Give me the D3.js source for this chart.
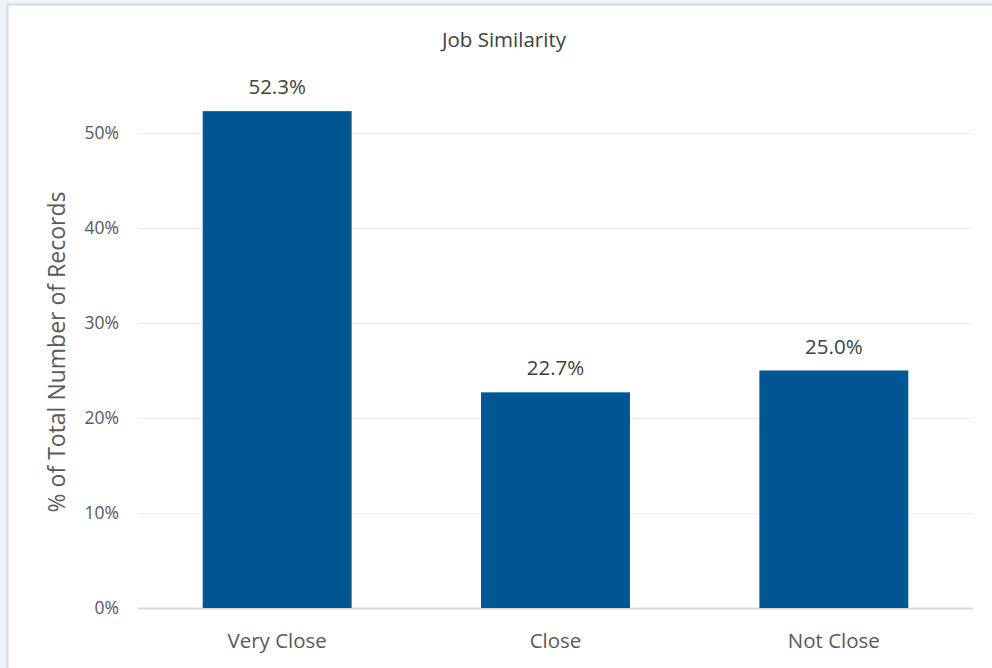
<!DOCTYPE html>
<html>
<head>
<meta charset="utf-8">
<script src="https://cdn.jsdelivr.net/npm/d3@7"></script>
<style>
  body { margin: 0; background: #eef4fb; }
  svg { display: block; font-family: "Open Sans", "Noto Sans", sans-serif; }
</style>
</head>
<body>
<svg id="chart" width="992" height="668"></svg>
<script>
// data
const categories = ['Very Close', 'Close', 'Not Close'];
const shares = [52.3, 22.7, 25.0];
const yTicks = [0, 10, 20, 30, 40, 50];

const width = 992;
const height = 668;
const margin = { top: 133, right: 19, bottom: 60, left: 138 };

const svg = d3.select('#chart');

// white chart panel with grey border
svg.append('rect')
    .attr('x', 7.5)
    .attr('y', 4.5)
    .attr('width', width)
    .attr('height', height)
    .attr('fill', '#fff')
    .attr('stroke', '#d9d9d9')
    .attr('stroke-width', 2);

const x = d3.scaleBand()
    .domain(categories)
    .range([margin.left, width - margin.right])
    .paddingInner(0.465)
    .paddingOuter(0.2325);

// 0% sits at y=608, 50% at y=133
const y = d3.scaleLinear()
    .domain([0, 50])
    .range([608, 133]);

// gridlines
svg.append('g')
    .selectAll('line')
    .data(yTicks)
    .enter()
    .append('line')
    .attr('x1', margin.left)
    .attr('x2', width - margin.right)
    .attr('y1', d => Math.round(y(d)) + 0.5)
    .attr('y2', d => Math.round(y(d)) + 0.5)
    .attr('stroke', d => d === 0 ? '#d9d9d9' : '#ececec')
    .attr('stroke-width', d => d === 0 ? 2 : 1);

// y tick labels
svg.append('g')
    .selectAll('text')
    .data(yTicks)
    .enter()
    .append('text')
    .attr('x', 119)
    .attr('y', d => y(d))
    .attr('dy', '0.35em')
    .style('text-anchor', 'end')
    .style('font-size', '17.5px')
    .style('fill', '#595959')
    .text(d => d + '%');

// bars
svg.append('g')
    .selectAll('rect')
    .data(shares)
    .enter()
    .append('rect')
    .attr('x', (d, i) => x(categories[i]))
    .attr('y', d => y(d))
    .attr('width', x.bandwidth())
    .attr('height', d => y(0) - y(d))
    .attr('fill', '#005593');

// value labels
svg.append('g')
    .selectAll('text')
    .data(shares)
    .enter()
    .append('text')
    .attr('x', (d, i) => x(categories[i]) + x.bandwidth() / 2)
    .attr('y', d => y(d) - 17)
    .style('text-anchor', 'middle')
    .style('font-size', '20.5px')
    .style('fill', '#404040')
    .text(d => d.toFixed(1) + '%');

// category labels
svg.append('g')
    .selectAll('text')
    .data(categories)
    .enter()
    .append('text')
    .attr('x', d => x(d) + x.bandwidth() / 2)
    .attr('y', 648)
    .style('text-anchor', 'middle')
    .style('font-size', '20.5px')
    .style('fill', '#595959')
    .text(d => d);

// axis title
svg.append('text')
    .attr('transform', 'translate(65, 352) rotate(-90)')
    .style('text-anchor', 'middle')
    .style('font-size', '23px')
    .style('fill', '#595959')
    .text('% of Total Number of Records');

// chart title
svg.append('text')
    .attr('x', 504)
    .attr('y', 47)
    .style('text-anchor', 'middle')
    .style('font-size', '20.5px')
    .style('fill', '#404040')
    .text('Job Similarity');
</script>
</body>
</html>
